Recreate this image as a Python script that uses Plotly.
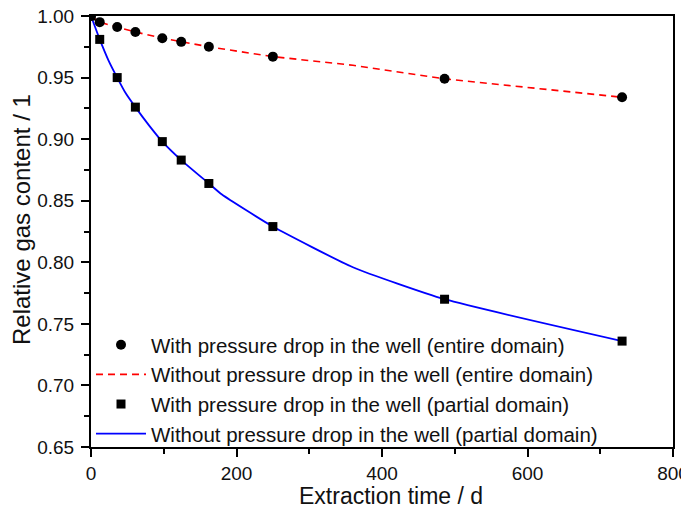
import plotly.graph_objects as go

# Data
time_pts = [0, 12, 36, 61, 98, 124, 162, 250, 486, 730]
with_drop_entire = [1.000, 0.995, 0.991, 0.987, 0.982, 0.979, 0.975, 0.967, 0.949, 0.934]
without_drop_entire_t = [0, 12, 36, 61, 98, 124, 162, 250, 360, 486, 730]
without_drop_entire = [1.000, 0.995, 0.991, 0.987, 0.982, 0.979, 0.975, 0.967, 0.960, 0.949, 0.934]
with_drop_partial = [1.000, 0.981, 0.950, 0.926, 0.898, 0.883, 0.864, 0.829, 0.770, 0.736]
without_drop_partial_t = [0, 12, 24, 36, 48, 61, 80, 98, 124, 162, 180, 250, 360, 486, 730]
without_drop_partial = [1.000, 0.981, 0.964, 0.950, 0.937, 0.926, 0.911, 0.898,
                        0.883, 0.864, 0.855, 0.829, 0.796, 0.770, 0.736]

names = [
    "With pressure drop in the well (entire domain)",
    "Without pressure drop in the well (entire domain)",
    "With pressure drop in the well (partial domain)",
    "Without pressure drop in the well (partial domain)",
]
x_title = "Extraction time / d"
y_title = "Relative gas content / 1"

FONT = "Liberation Sans, Arial, sans-serif"

fig = go.Figure()
fig.add_trace(go.Scatter(x=without_drop_entire_t, y=without_drop_entire, mode="lines",
                         line=dict(color="#ff0000", width=1.6, dash="7px,5px"),
                         name=names[1], legendrank=2))
fig.add_trace(go.Scatter(x=without_drop_partial_t, y=without_drop_partial, mode="lines",
                         line=dict(color="#0000ff", width=1.8, shape="spline", smoothing=0.5),
                         name=names[3], legendrank=4))
fig.add_trace(go.Scatter(x=time_pts, y=with_drop_entire, mode="markers",
                         marker=dict(symbol="circle", size=10, color="black"),
                         name=names[0], legendrank=1))
fig.add_trace(go.Scatter(x=time_pts, y=with_drop_partial, mode="markers",
                         marker=dict(symbol="square", size=9, color="black"),
                         name=names[2], legendrank=3))

axis_common = dict(
    showline=True, linecolor="black", linewidth=2, mirror=True,
    ticks="outside", ticklen=8, tickwidth=1.5, tickcolor="black",
    showgrid=False, zeroline=False, automargin=False,
    ticklabeloverflow="allow",
    tickfont=dict(family=FONT, size=19, color="#111111"),
)

fig.update_xaxes(range=[0, 800], dtick=200, tick0=0,
                 minor=dict(dtick=100, ticks="outside", ticklen=5, tickwidth=1.5, tickcolor="black"),
                 **axis_common)
fig.update_yaxes(range=[0.65, 1.00], dtick=0.05, tick0=0.65, tickformat=".2f",
                 ticklabelstandoff=3,
                 minor=dict(dtick=0.025, ticks="outside", ticklen=5, tickwidth=1.5, tickcolor="black"),
                 **axis_common)

# axis titles as paper-positioned annotations
fig.add_annotation(text=x_title, xref="paper", yref="paper", x=0.5155, y=-0.1148,
                   xanchor="center", yanchor="middle", showarrow=False,
                   font=dict(family=FONT, size=23, color="#111111"))
fig.add_annotation(text=y_title, xref="paper", yref="paper", x=-0.1203, y=0.529,
                   xanchor="center", yanchor="middle", showarrow=False, textangle=-90,
                   font=dict(family=FONT, size=24, color="#111111"))

# page body has an 8px margin, so the figure is offset by (8, 8)
fig.update_layout(
    width=689, height=510,
    margin=dict(l=83, r=24, t=8, b=71),
    paper_bgcolor="white", plot_bgcolor="white",
    legend=dict(x=0.0, y=-0.016, xanchor="left", yanchor="bottom",
                bgcolor="rgba(0,0,0,0)", itemwidth=50,
                font=dict(family=FONT, size=20.5, color="#111111")),
)

fig.write_html("out.html")
